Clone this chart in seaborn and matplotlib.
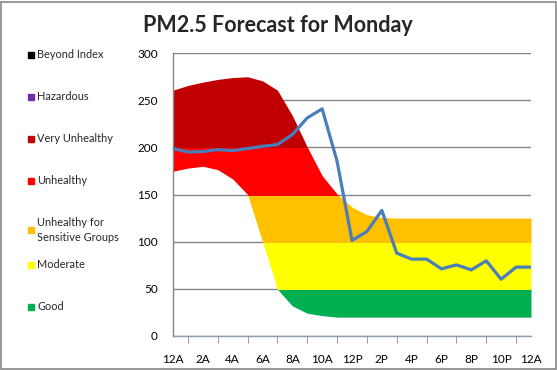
import matplotlib.pyplot as plt
import matplotlib.ticker as mticker
from matplotlib.lines import Line2D
from matplotlib.patches import Rectangle
import pandas as pd
import seaborn as sns

# hourly forecast, 12A to 12A
hours = list(range(25))
pm25 = [198.7, 195.1, 195.5, 197.6, 196.5, 198.7, 201.1, 202.9, 213.5, 231.2, 240.8,
        185.2, 101.3, 110.8, 133.1, 87.8, 81.5, 81.5, 71.2, 75.4, 70.1, 79.7, 60.2, 73.0, 73.0]
band_upper = [260.6, 265.6, 269.1, 272.0, 274.0, 274.8, 270.5, 260.6, 233.7, 200.4, 170.0,
              150.5, 136.7, 128.5, 125.7, 125, 125, 125, 125, 125, 125, 125, 125, 125, 125]
band_lower = [174.6, 178.0, 179.9, 176.4, 166.5, 150.0, 100.2, 49.6, 31.9, 24.1, 21.6,
              20, 20, 20, 20, 20, 20, 20, 20, 20, 20, 20, 20, 20, 20]

x_labels = ['12A', '2A', '4A', '6A', '8A', '10A', '12P', '2P', '4P', '6P', '8P', '10P', '12A']

categories = ['Beyond Index', 'Hazardous', 'Very Unhealthy', 'Unhealthy',
              'Unhealthy for\nSensitive Groups', 'Moderate', 'Good']
cat_colors = ['#000000', '#7030A0', '#C00000', '#FF0000', '#FFC000', '#FFFF00', '#00B050']
# aqi band limits for the coloured envelope (bottom to top)
band_limits = [(0, 50), (50, 100), (100, 150), (150, 200), (200, 300)]
band_colors = ['#00B050', '#FFFF00', '#FFC000', '#FF0000', '#C00000']

df = pd.DataFrame({'hour': hours, 'pm25': pm25})

sns.set_style('white')
plt.rcParams['font.family'] = ['Lato', 'DejaVu Sans']

W, H = 557, 370
fig = plt.figure(figsize=(W / 100, H / 100), dpi=100)
ax = fig.add_axes([173 / W, 1 - 336 / H, 358 / W, 283 / H])

grey = '#868686'

# coloured envelope, cut into aqi bands
for (lo, hi), c in zip(band_limits, band_colors):
    poly = ax.fill_between(hours, band_lower, band_upper, color=c, lw=0, zorder=1)
    clip = Rectangle((0, lo), 24, hi - lo, transform=ax.transData)
    poly.set_clip_path(clip)

sns.lineplot(data=df, x='hour', y='pm25', ax=ax, color='#4A7EBB', lw=2.3, zorder=3)

ax.set_xlim(0, 24)
ax.set_ylim(0, 300)
ax.set_xlabel('')
ax.set_ylabel('')
ax.set_yticks(range(0, 301, 50))
ax.set_xticks(range(0, 25, 2))
ax.set_xticklabels(x_labels)
ax.xaxis.set_minor_locator(mticker.MultipleLocator(1))
ax.yaxis.grid(True, color=grey, lw=1, zorder=0)
ax.set_axisbelow(True)
ax.tick_params(axis='both', which='both', direction='out', color=grey, labelsize=8.5,
               labelcolor='black')
ax.tick_params(axis='x', which='both', length=5, pad=8)
ax.tick_params(axis='y', length=5, pad=6)
ax.xaxis.set_tick_params(which='minor', bottom=True)
for s in ['top', 'right']:
    ax.spines[s].set_visible(False)
ax.spines['left'].set_color(grey)
ax.spines['bottom'].set_color('#8E9CB0')
ax.spines['left'].set_linewidth(1)
ax.spines['bottom'].set_linewidth(1)

fig.text(278 / W, 1 - 26 / H, 'PM2.5 Forecast for Monday', ha='center', va='center',
         fontsize=15.5, fontweight='bold')

# legend column on the left
leg_y = [55, 97, 139, 181, 230, 265, 307]
for name, c, y in zip(categories, cat_colors, leg_y):
    fig.add_artist(Line2D([31 / W], [1 - y / H], marker='s', ms=5, color=c, lw=0,
                          transform=fig.transFigure))
    fig.text(37 / W, 1 - y / H, name, ha='left', va='center', fontsize=7.9,
             linespacing=1.55)

fig.add_artist(Rectangle((0.5 / W, 1 - 368.5 / H), 555 / W, 367 / H, fill=False,
                         edgecolor=grey, lw=1.2, transform=fig.transFigure))

fig.savefig('out.png', dpi=100)
